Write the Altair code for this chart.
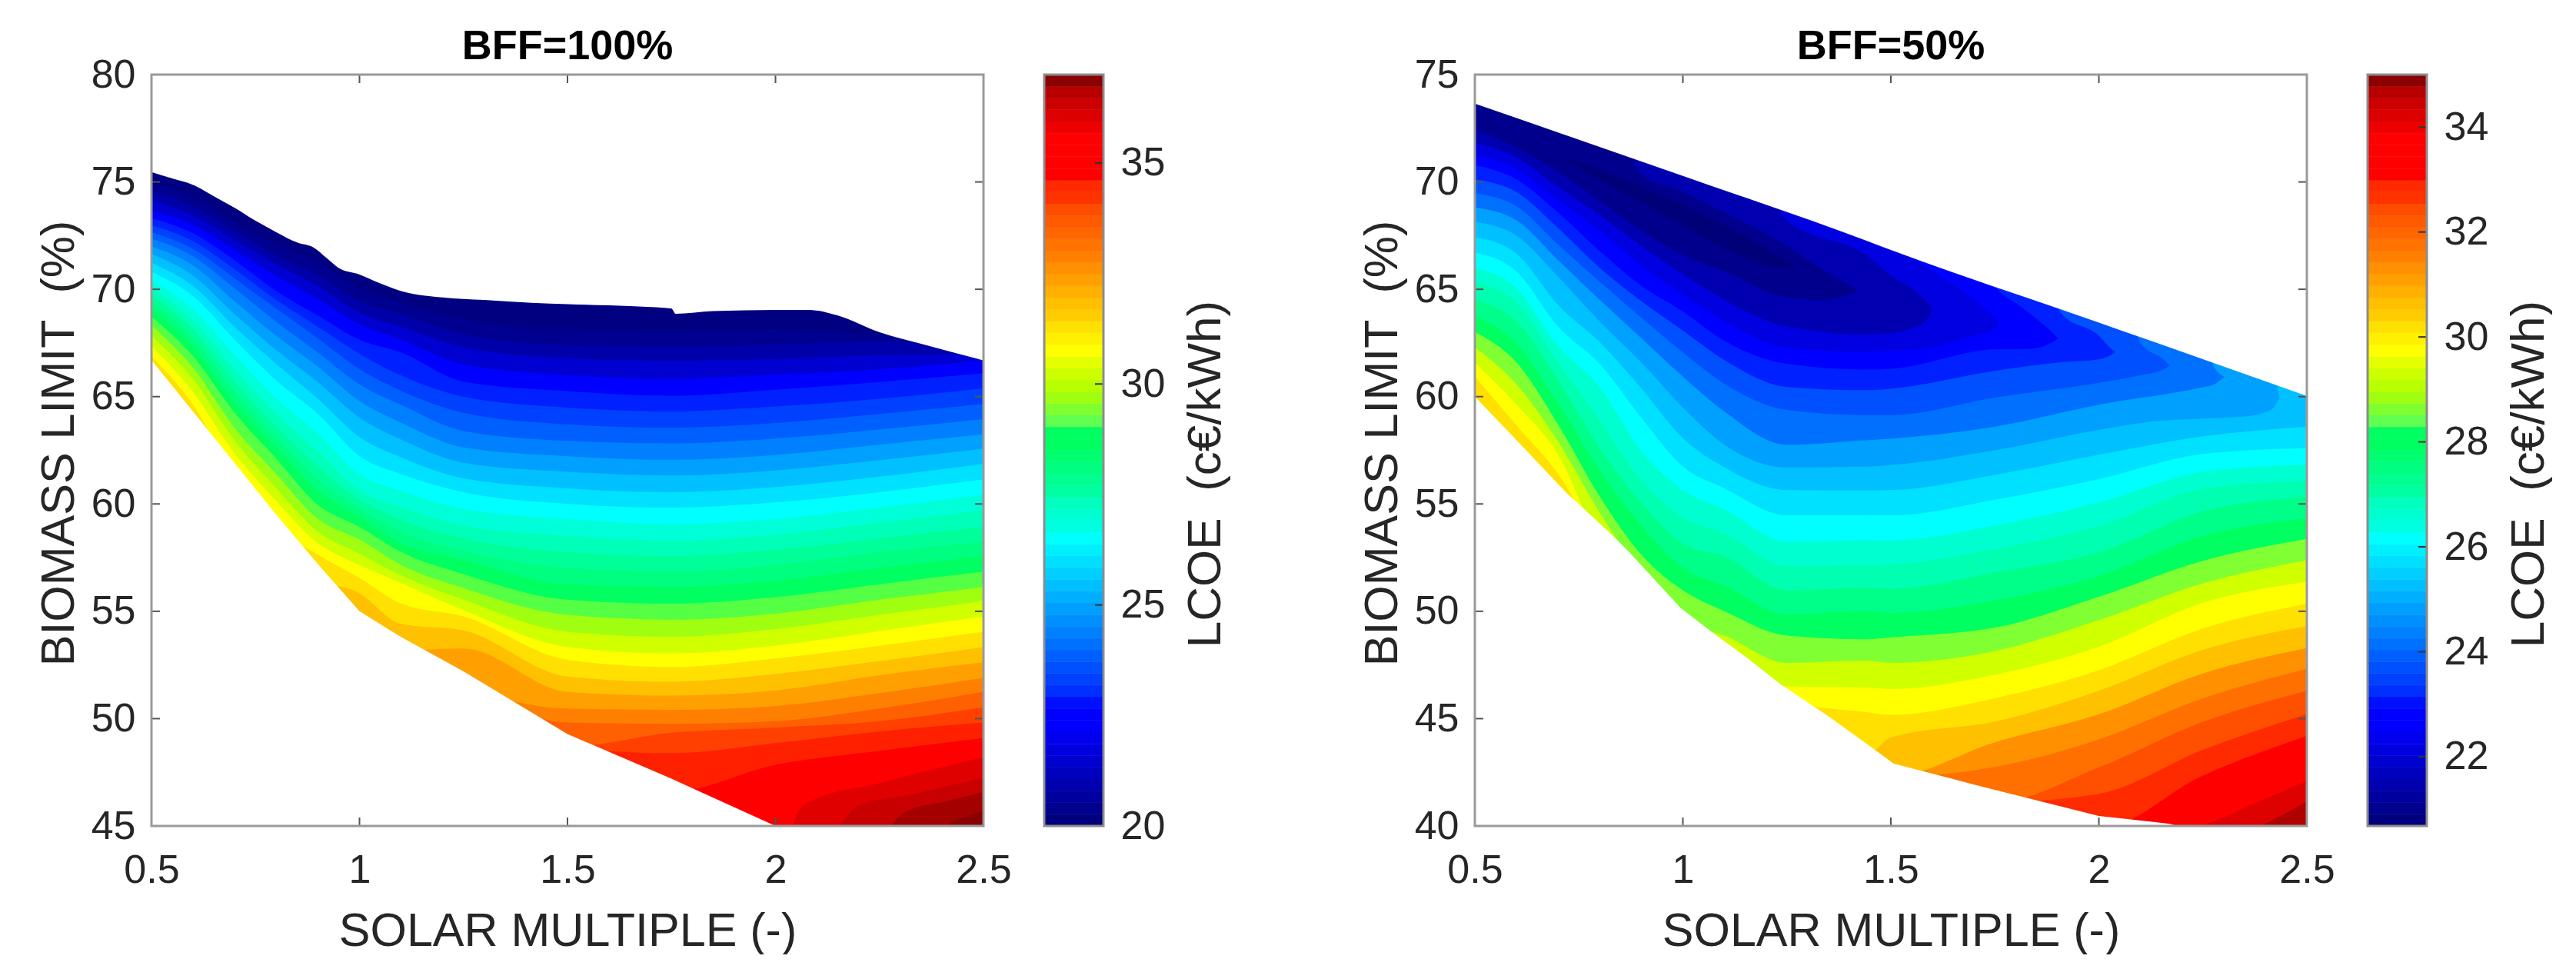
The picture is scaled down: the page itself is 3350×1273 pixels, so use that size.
import altair as alt
import pandas as pd

FONT = "Liberation Sans"
INK = "#262626"
W, H, CW = 1082, 977, 77

# ---------- shared colour bar (64 entries, low to high) ----------
CMAP = ["#00007f","#00008f","#00009f","#0000af","#0000bf","#0000cf","#0000df","#0000ef","#0000ff","#0000ff",
        "#0010ff","#0030ff","#0040ff","#0050ff","#0060ff","#0070ff","#0080ff","#008fff","#009fff","#00afff",
        "#00bfff","#00cfff","#00dfff","#00efff","#00ffff","#00ffe0","#00ffd0","#00ffc0","#00ffa0","#00ff90",
        "#00ff80","#00ff70","#00ff60","#00ff60","#60ff50","#80ff30","#a0ff10","#b8ff00","#ccff00","#e6ff00",
        "#ffff00","#fff000","#ffe000","#ffcc00","#ffc000","#ffb000","#ffa000","#ff9000","#ff8000","#ff7300",
        "#ff6600","#ff5a00","#ff4d00","#ff3300","#ff2a00","#ff0000","#ff0000","#ff0000","#ff0000","#ef0000",
        "#dc0000","#cc0000","#b90000","#a50000"][:63] + ["#8b0000"]

# ---------- BFF = 100 % ----------
L_COLS = [0.5,0.6,0.7,0.8,0.9,1.0,1.1,1.25,1.5,1.75,2.0,2.25,2.5]
L_FLOOR = [66.7,64.3,61.9,59.5,57.2,55.0,53.8,52.2,49.28,47.2,45.0,0,0]
L_COLORS = ["#000080","#000090","#0000aa","#0000d0","#0000ff","#0020ff","#0040ff","#0060ff","#0080ff","#00a0ff",
            "#00c0ff","#00e0ff","#00ffff","#00ffd8","#00ffb8","#00ff98","#00ff80","#00ff60","#55ff44","#a0ff10",
            "#d0ff00","#ffff00","#ffe000","#ffc000","#ffa000","#ff8000","#ff6000","#ff4000","#ff2000","#ff0000",
            "#e00000","#c80000","#a50000","#8b0000"]
L_LINES = [
 [74.98,74.27,73.13,72.12,71.23,70.04,69.39,68.6,68.14,68.1,68.12,67.88,67.3],
 [74.56,73.85,72.72,71.59,70.63,69.44,68.84,67.9,67.4,67.34,67.43,67.58,67.2],
 [74.15,73.43,72.3,71.17,70.15,68.9,68.25,67.3,66.79,66.67,66.75,66.93,67.0],
 [73.69,73.02,71.83,70.63,69.56,68.37,67.65,66.5,66.0,65.83,66.03,66.27,66.7],
 [73.31,72.6,71.35,69.92,68.78,67.65,67.06,65.7,65.26,65.04,65.32,65.68,66.09],
 [72.99,72.24,70.93,69.5,68.25,67.0,65.98,65.0,64.49,64.31,64.54,64.9,65.38],
 [72.66,71.88,70.51,69.1,67.71,66.28,65.27,64.25,63.71,63.55,63.77,64.19,64.66],
 [72.36,71.53,70.04,68.48,67.05,65.57,64.61,63.4,62.94,62.82,63.05,63.47,63.95],
 [72.0,71.11,69.44,67.83,66.4,64.79,63.78,62.63,62.22,62.06,62.28,62.76,63.24],
 [71.65,70.63,68.84,67.17,65.68,64.02,63.0,61.92,61.5,61.33,61.56,62.04,62.57],
 [71.23,70.15,68.25,66.52,64.9,63.12,62.17,61.2,60.73,60.55,60.79,61.27,61.86],
 [70.81,69.68,67.65,65.75,64.19,62.23,61.39,60.55,60.01,59.83,60.07,60.55,61.14],
 [70.39,69.08,66.94,64.91,63.3,61.39,60.62,59.77,59.3,59.06,59.3,59.83,60.43],
 [70.04,68.55,66.28,64.2,62.46,60.62,59.84,59.0,58.52,58.29,58.58,59.12,59.71],
 [69.74,68.13,65.69,63.6,61.75,60.2,59.25,58.4,57.75,57.57,57.87,58.4,58.94],
 [69.44,67.77,65.21,63.12,61.15,59.8,58.71,57.8,57.03,56.85,57.15,57.75,58.22],
 [69.08,67.35,64.73,62.65,60.62,59.4,58.17,57.39,56.26,56.14,56.43,57.03,57.57],
 [68.72,66.88,64.25,62.11,59.96,58.94,57.76,56.73,55.54,55.36,55.66,56.26,56.85],
 [68.31,66.34,63.54,61.39,59.3,58.34,57.15,56.08,54.83,54.61,54.89,55.54,56.13],
 [67.83,65.81,62.95,60.74,58.71,57.68,56.67,55.54,54.05,53.81,54.17,54.83,55.48],
 [67.35,65.21,62.35,60.14,58.17,57.15,56.31,55.06,53.34,53.04,53.4,54.08,54.76],
 [66.88,64.61,61.9,59.5,57.64,56.55,55.36,54.76,52.74,52.4,52.8,53.39,54.05],
 [66.7,64.3,61.9,59.5,57.2,55.84,54.41,54.11,51.96,51.72,52.08,52.68,53.33],
 [66.7,64.3,61.9,59.5,57.2,55.0,53.8,53.27,51.25,51.07,51.31,52.02,52.62],
 [66.7,64.3,61.9,59.5,57.2,55.0,53.8,52.2,50.47,50.41,50.59,51.19,51.9],
 [66.7,64.3,61.9,59.5,57.2,55.0,53.8,52.2,49.82,49.76,49.88,50.47,51.25],
 [66.7,64.3,61.9,59.5,57.2,55.0,53.8,52.2,49.28,49.34,49.58,49.88,50.53],
 [66.7,64.3,61.9,59.5,57.2,55.0,53.8,52.2,49.28,48.39,48.86,49.4,49.82],
 [66.7,64.3,61.9,59.5,57.2,55.0,53.8,52.2,49.28,47.2,47.85,48.5,49.1],
]
L_EXTRA = [
 ([0.5,2.04,2.055,2.08,2.25,2.5],[45,45,45.7,46.12,47.0,48.2]),
 ([0.5,2.15,2.172,2.196,2.33,2.5],[45,45,45.46,45.94,46.48,47.25]),
 ([0.5,2.275,2.29,2.316,2.41,2.5],[45,45,45.32,45.7,46.15,46.6]),
 ([0.5,2.41,2.425,2.46,2.5],[45,45,45.2,45.45,45.7]),
 ([0.5,2.5],[45,45]),
]
L_TOP_X = [0.5,0.55,0.6,0.65,0.7,0.75,0.8,0.85,0.89,0.92,0.95,1.0,1.05,1.1,1.2,1.3,1.414,1.5,1.6,1.7,1.75,1.76,1.85,2.0,2.08,2.15,2.25,2.35,2.5]
L_TOP_Y = [75.46,75.16,74.86,74.33,73.79,73.19,72.66,72.18,71.94,71.47,70.99,70.69,70.27,69.92,69.62,69.5,69.37,69.31,69.25,69.17,69.1,68.86,68.98,69.04,69.04,68.78,68.0,67.46,66.69]
L_BOT_X = [0.5,0.6,0.7,0.8,0.9,1.0,1.1,1.25,1.5,1.75,2.0,2.5]
L_BOT_Y = [66.7,64.3,61.9,59.5,57.2,55.0,53.8,52.2,49.28,47.2,45.0,45.0]

# ---------- BFF = 50 % ----------
R_COLS = [0.5,0.6,0.7,0.8,0.9,1.0,1.1,1.25,1.44,1.5,1.75,2.0,2.25,2.5]
R_FLOOR = [60.0,58.0,55.9,53.9,52.35,50.1,48.6,46.4,43.9,42.9,41.7,40.47,0,0]
R_COLORS = ["#000078","#00008c","#0000b0","#0000e0","#0000ff","#0020ff","#0050ff","#0070ff","#00a0ff","#00c0ff",
            "#00e0ff","#00ffff","#00ffd0","#00ffb0","#00ff88","#00ff60","#80ff33","#d0ff00","#ffff00","#ffe000",
            "#ffc000","#ff9000","#ff7000","#ff5000","#ff2a00","#ff0000","#df0000","#b00000"]
# tongues: x, upper contour, lower contour
R_TONGUES = [
 ([0.72,0.788,0.9,1.0,1.1,1.22,1.275],[71.08,70.66,69.77,68.93,67.97,66.66,65.95],[71.08,70.24,69.05,67.97,66.9,66.06,65.95]),
 ([0.5,0.6,0.7,0.8,0.9,1.0,1.1,1.25,1.343,1.423],[75,75,75,75,70.36,69.53,68.57,67.02,65.83,64.93],[72.45,71.6,70.48,69.11,67.74,66.6,65.83,64.63,64.51,64.93]),
 ([0.5,0.6,0.7,0.8,0.9,1.0,1.1,1.25,1.44,1.5,1.58,1.6],[75,75,75,75,75,75,75,68.2,66.6,65.65,64.55,64.07],[71.85,71.14,69.77,68.45,67.02,65.7,64.5,63.26,62.9,62.97,63.45,64.07]),
 ([0.5,0.6,0.7,0.8,0.9,1.0,1.1,1.25,1.44,1.5,1.6,1.68,1.745,1.76],[75,75,75,75,75,75,75,75,75,67.5,65.85,64.82,63.73,63.39],[71.29,70.6,69.17,67.74,66.1,64.75,63.5,62.3,62.08,62.15,62.29,62.77,63.11,63.39]),
 ([0.5,0.6,0.7,0.8,0.9,1.0,1.1,1.25,1.44,1.5,1.75,1.83,1.885,1.902],[75,75,75,75,75,75,75,75,75,75,65.1,63.93,63.04,62.7],[70.78,70.12,68.57,66.78,65.17,63.97,62.6,61.53,61.26,61.29,62.2,62.22,62.5,62.7]),
 ([0.5,0.6,0.7,0.8,0.9,1.0,1.1,1.25,1.44,1.5,1.75,1.91,2.0,2.03,2.04],[75,75,75,75,75,75,75,75,75,75,75,63.87,62.84,62.22,62.08],[70.12,69.53,67.85,66.0,64.45,63.08,61.7,60.45,60.3,60.37,61.2,61.6,61.74,61.95,62.08]),
 ([0.5,0.6,0.7,0.8,0.9,1.0,1.1,1.25,1.44,1.5,1.75,2.0,2.1,2.155,2.17],[75,75,75,75,75,75,75,75,75,75,75,75,62.5,61.74,61.47],[69.47,68.87,67.08,65.35,63.68,62.06,60.6,59.38,59.14,59.14,59.95,60.64,60.99,61.26,61.47]),
 ([0.5,0.6,0.7,0.8,0.9,1.0,1.1,1.25,1.44,1.5,1.75,2.0,2.25,2.275,2.302],[75,75,75,75,75,75,75,75,75,75,75,75,75,61.47,60.92],[68.81,68.21,66.36,64.51,62.72,60.93,59.3,57.76,57.97,58.04,58.6,59.62,60.44,60.55,60.92]),
 ([0.5,0.6,0.7,0.8,0.9,1.0,1.1,1.25,1.44,1.5,1.75,2.0,2.14,2.25,2.348,2.415,2.43,2.435],[75,75,75,75,75,75,75,75,75,75,75,75,75,75,75,75,60.37,59.96],[68.15,67.5,65.59,63.5,61.59,59.5,57.76,56.7,56.74,56.81,57.5,58.45,58.86,58.98,59.07,59.4,59.8,59.96]),
]
R_LINES = [
 [67.44,66.66,64.27,62.54,60.39,58.06,56.7,55.65,55.64,55.65,56.35,57.29,58.15,58.6],
 [66.72,65.83,63.26,61.53,59.02,56.75,55.73,54.47,54.48,54.47,55.2,56.16,57.33,57.6],
 [66.0,65.05,62.36,60.45,57.47,55.65,54.75,53.24,53.31,53.3,54.0,55.07,56.5,56.83],
 [65.29,64.39,61.59,58.9,56.1,54.37,53.62,52.11,52.15,52.18,52.9,53.97,55.7,56.08],
 [64.51,63.5,60.75,57.6,55.05,53.16,52.56,50.98,51.1,51.05,51.8,52.74,54.65,55.32],
 [63.74,62.48,59.7,56.55,54.0,52.03,51.2,49.85,50.0,49.92,50.5,51.64,53.5,54.33],
 [63.02,61.59,58.7,55.35,52.64,50.98,50.0,48.87,48.7,48.79,49.24,50.68,52.35,53.37],
 [62.3,60.57,57.9,54.6,52.35,50.1,48.87,47.59,47.7,47.6,48.15,49.59,51.3,52.38],
 [61.59,59.62,57.3,53.9,52.35,50.1,48.6,46.5,46.45,46.38,47.05,48.35,50.4,51.37],
 [60.93,58.66,56.4,53.9,52.35,50.1,48.6,46.4,45.3,45.17,45.95,47.25,49.2,50.34],
 [60.0,58.0,55.9,53.9,52.35,50.1,48.6,46.4,43.9,44.12,44.86,46.3,48.2,49.31],
 [60.0,58.0,55.9,53.9,52.35,50.1,48.6,46.4,43.9,42.9,43.9,45.2,47.1,48.28],
 [60.0,58.0,55.9,53.9,52.35,50.1,48.6,46.4,43.9,42.9,42.75,44.03,45.95,47.32],
 [60.0,58.0,55.9,53.9,52.35,50.1,48.6,46.4,43.9,42.9,41.7,42.73,44.85,46.3],
 [60.0,58.0,55.9,53.9,52.35,50.1,48.6,46.4,43.9,42.9,41.7,41.5,43.55,45.2],
 [60.0,58.0,55.9,53.9,52.35,50.1,48.6,46.4,43.9,42.9,41.7,40.47,42.35,44.2],
]
R_EXTRA = [
 ([0.5,2.24,2.26,2.38,2.5],[40,40,40.1,41.1,42.1]),
 ([0.5,2.39,2.4,2.45,2.5],[40,40,40.1,40.6,41.16]),
 ([0.5,2.5],[40,40]),
]
R_TOP_X = [0.5,1.0,1.44,1.5,2.0,2.5]
R_TOP_Y = [73.65,70.28,67.27,66.83,63.45,60.03]
R_BOT_X = [0.5,0.589,0.721,0.822,0.869,0.995,1.072,1.143,1.235,1.351,1.437,1.507,1.7,2.0,2.17,2.19,2.5]
R_BOT_Y = [60.0,58.2,55.5,53.7,52.8,50.15,49.0,48.0,46.6,45.1,43.9,42.9,41.93,40.47,40.1,40.0,40.0]


def sink(line, floor):
    # contour that has already left the region through its lower edge: keep it under the edge
    return [v - 0.6 if v <= f + 0.01 else v for v, f in zip(line, floor)]


def left_rows():
    rows = []
    top = 80
    curves = [(L_COLS, sink(l, L_FLOOR)) for l in L_LINES] + L_EXTRA
    for k in reversed(range(len(curves))):
        xs, ys = curves[k]
        rows += [{"x": a, "upper": top, "lower": b, "band": f"b{k:02d}"} for a, b in zip(xs, ys)]
    return rows


def right_rows():
    rows = []
    top = 75
    curves = [(xs, up, lo) for xs, up, lo in R_TONGUES]
    curves += [(R_COLS, [top] * len(R_COLS), sink(l, R_FLOOR)) for l in R_LINES]
    curves += [(xs, [top] * len(xs), ys) for xs, ys in R_EXTRA]
    for k in reversed(range(len(curves))):
        xs, up, lo = curves[k]
        rows += [{"x": a, "upper": u, "lower": b, "band": f"b{k:02d}"} for a, u, b in zip(xs, up, lo)]
    return rows


def panel(title, rows, colors, ydom, yticks, top, bot):
    xs = alt.Scale(domain=[0.5, 2.5], nice=False, zero=False)
    ys = alt.Scale(domain=ydom, nice=False, zero=False)
    df = pd.DataFrame(rows)
    names = [f"b{k:02d}" for k in range(len(colors))]
    xticks = [0.5, 1, 1.5, 2, 2.5]
    xaxis = alt.Axis(values=xticks, format="~g", ticks=False, domain=False, grid=False,
                     labelFont=FONT, labelFontSize=52, labelColor=INK, labelPadding=32, labelFlush=False,
                     labelOverlap=False, labelBound=False,
                     title="SOLAR MULTIPLE (-)", titleFont=FONT, titleFontSize=61, titleFontWeight="normal",
                     titleColor=INK, titleY=155, titleBaseline="alphabetic")
    yaxis = alt.Axis(values=yticks, ticks=False, domain=False, grid=False,
                     labelFont=FONT, labelFontSize=52, labelColor=INK, labelPadding=21, labelFlush=False,
                     labelOverlap=False, labelBound=False,
                     title="BIOMASS LIMIT\u00a0\u00a0(%)", titleFont=FONT, titleFontSize=61, titleFontWeight="normal",
                     titleColor=INK, titleX=-102, titleY=479, titleAngle=270, titleBaseline="alphabetic",
                     titleAlign="center")
    bands = alt.Chart(df).mark_area(interpolate="monotone", clip=True).encode(
        x=alt.X("x:Q", scale=xs, axis=xaxis),
        y=alt.Y("upper:Q", scale=ys, axis=yaxis),
        y2="lower:Q",
        color=alt.Color("band:N", scale=alt.Scale(domain=names, range=colors), legend=None),
    )
    top_mask = alt.Chart(pd.DataFrame({"x": top[0], "v": top[1], "t": ydom[1]})).mark_area(
        color="white", interpolate="monotone", clip=True).encode(
        x=alt.X("x:Q", scale=xs, axis=xaxis), y=alt.Y("v:Q", scale=ys, axis=yaxis), y2="t:Q")
    bot_mask = alt.Chart(pd.DataFrame({"x": bot[0], "v": bot[1], "b": ydom[0]})).mark_area(color="white", clip=True).encode(
        x=alt.X("x:Q", scale=xs, axis=xaxis), y=alt.Y("v:Q", scale=ys, axis=yaxis), y2="b:Q")
    xt = pd.DataFrame({"t": xticks})
    yt = pd.DataFrame({"t": yticks})
    tick = dict(color="#555555", strokeWidth=2)
    layers = [
        bands, top_mask, bot_mask,
        alt.Chart(xt).mark_rule(**tick).encode(x=alt.X("t:Q", scale=xs, axis=xaxis), y=alt.value(H), y2=alt.value(H - 11)),
        alt.Chart(xt).mark_rule(**tick).encode(x=alt.X("t:Q", scale=xs, axis=xaxis), y=alt.value(0), y2=alt.value(11)),
        alt.Chart(yt).mark_rule(**tick).encode(y=alt.Y("t:Q", scale=ys, axis=yaxis), x=alt.value(0), x2=alt.value(11)),
        alt.Chart(yt).mark_rule(**tick).encode(y=alt.Y("t:Q", scale=ys, axis=yaxis), x=alt.value(W), x2=alt.value(W - 11)),
        alt.Chart(alt.Data(values=[{"a": 1}])).mark_rect(fillOpacity=0, stroke="#999999", strokeWidth=3).encode(
            x=alt.value(0), x2=alt.value(W), y=alt.value(0), y2=alt.value(H)),
    ]
    return alt.layer(*layers).properties(
        width=W, height=H,
        title=alt.TitleParams(title, font=FONT, fontSize=54, fontWeight="bold", color="#000000",
                              anchor="middle", offset=-17),
    )


def colorbar(dom, ticks):
    ys = alt.Scale(domain=dom, nice=False, zero=False)
    step = (dom[1] - dom[0]) / len(CMAP)
    df = pd.DataFrame({"idx": [f"c{i:02d}" for i in range(len(CMAP))],
                       "lo": [dom[0] + i * step for i in range(len(CMAP))],
                       "hi": [dom[0] + (i + 1) * step for i in range(len(CMAP))]})
    cs = alt.Scale(domain=list(df["idx"]), range=CMAP)
    axis = alt.Axis(values=ticks, orient="right", ticks=False, domain=False, grid=False,
                    labelFont=FONT, labelFontSize=52, labelColor=INK, labelPadding=22, labelFlush=False,
                    labelOverlap=False, labelBound=False,
                    title="LCOE\u00a0\u00a0(c€/kWh)", titleFont=FONT, titleFontSize=62, titleFontWeight="normal",
                    titleColor=INK, titleX=151, titleY=519, titleAngle=270, titleBaseline="alphabetic",
                    titleAlign="center")
    rect = alt.Chart(df).mark_rect(strokeWidth=0.6).encode(
        x=alt.value(0), x2=alt.value(CW),
        y=alt.Y("lo:Q", scale=ys, axis=axis), y2="hi:Q",
        color=alt.Color("idx:N", scale=cs, legend=None),
        stroke=alt.Color("idx:N", scale=cs, legend=None),
    )
    tk = alt.Chart(pd.DataFrame({"t": ticks})).mark_rule(color="#333333", strokeWidth=2).encode(
        y=alt.Y("t:Q", scale=ys, axis=axis), x=alt.value(CW), x2=alt.value(CW - 11))
    frame = alt.Chart(alt.Data(values=[{"a": 1}])).mark_rect(fillOpacity=0, stroke="#8c8c8c", strokeWidth=3).encode(
        x=alt.value(0), x2=alt.value(CW), y=alt.value(0), y2=alt.value(H))
    return alt.layer(rect, tk, frame).properties(width=CW, height=H)


IND = dict(color="independent", stroke="independent", x="independent", y="independent")
left = alt.hconcat(
    panel("BFF=100%", left_rows(), L_COLORS, [45, 80], [45, 50, 55, 60, 65, 70, 75, 80],
          (L_TOP_X, L_TOP_Y), (L_BOT_X, L_BOT_Y)),
    colorbar([20, 37], [20, 25, 30, 35]), spacing=40).resolve_scale(**IND)
right = alt.hconcat(
    panel("BFF=50%", right_rows(), R_COLORS, [40, 75], [40, 45, 50, 55, 60, 65, 70, 75],
          (R_TOP_X, R_TOP_Y), (R_BOT_X, R_BOT_Y)),
    colorbar([20.68, 35], [22, 24, 26, 28, 30, 32, 34]), spacing=40).resolve_scale(**IND)

chart = alt.hconcat(left, right, spacing=168, padding={"left": 37, "top": 26, "right": 0, "bottom": 0}).resolve_scale(
    **IND
).configure_view(stroke=None)

chart.save("out.html", embed_options={"renderer": "svg", "actions": False})
